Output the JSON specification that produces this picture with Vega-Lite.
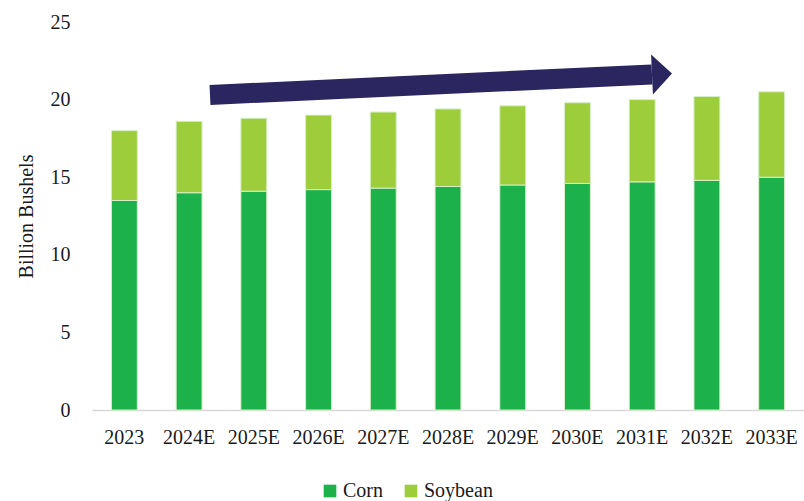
{
  "$schema": "https://vega.github.io/schema/vega-lite/v6.json",
  "width": 712,
  "height": 388,
  "autosize": {"type": "none"},
  "padding": {"left": 92, "top": 22, "right": 0, "bottom": 91},
  "background": "white",
  "config": {
    "view": {"stroke": null},
    "font": "Liberation Serif"
  },
  "datasets": {
    "bars": [
      {"year": "2023", "crop": "Corn", "value": 13.5},
      {"year": "2023", "crop": "Soybean", "value": 4.5},
      {"year": "2024E", "crop": "Corn", "value": 14.0},
      {"year": "2024E", "crop": "Soybean", "value": 4.6},
      {"year": "2025E", "crop": "Corn", "value": 14.1},
      {"year": "2025E", "crop": "Soybean", "value": 4.7},
      {"year": "2026E", "crop": "Corn", "value": 14.2},
      {"year": "2026E", "crop": "Soybean", "value": 4.8},
      {"year": "2027E", "crop": "Corn", "value": 14.3},
      {"year": "2027E", "crop": "Soybean", "value": 4.9},
      {"year": "2028E", "crop": "Corn", "value": 14.4},
      {"year": "2028E", "crop": "Soybean", "value": 5.0},
      {"year": "2029E", "crop": "Corn", "value": 14.5},
      {"year": "2029E", "crop": "Soybean", "value": 5.1},
      {"year": "2030E", "crop": "Corn", "value": 14.6},
      {"year": "2030E", "crop": "Soybean", "value": 5.2},
      {"year": "2031E", "crop": "Corn", "value": 14.7},
      {"year": "2031E", "crop": "Soybean", "value": 5.3},
      {"year": "2032E", "crop": "Corn", "value": 14.8},
      {"year": "2032E", "crop": "Soybean", "value": 5.4},
      {"year": "2033E", "crop": "Corn", "value": 15.0},
      {"year": "2033E", "crop": "Soybean", "value": 5.5}
    ],
    "arrowShaft": [
      {"pos": 1.823, "level": 20.3},
      {"pos": 8.651, "level": 21.62}
    ],
    "arrowHead": [
      {"pos": 8.806, "level": 21.65}
    ]
  },
  "layer": [
    {
      "data": {"name": "bars"},
      "mark": {"type": "bar", "stroke": "#d6efc6", "strokeWidth": 1},
      "encoding": {
        "x": {
          "field": "year",
          "type": "nominal",
          "sort": null,
          "scale": {"paddingInner": 0.6, "paddingOuter": 0.3},
          "axis": {
            "title": null,
            "labelAngle": 0,
            "labelFontSize": 20,
            "labelColor": "#1a1a1a",
            "labelPadding": 17,
            "labelOverlap": false,
            "ticks": false,
            "domainColor": "#d9d9d9",
            "domainWidth": 1.5,
            "grid": false
          }
        },
        "y": {
          "field": "value",
          "type": "quantitative",
          "stack": "zero",
          "scale": {"domain": [0, 25], "nice": false},
          "axis": {
            "title": "Billion Bushels",
            "titleFontSize": 20,
            "titleFontWeight": "normal",
            "titleColor": "#1a1a1a",
            "titlePadding": 14,
            "values": [0, 5, 10, 15, 20, 25],
            "labelFontSize": 20,
            "labelColor": "#1a1a1a",
            "labelPadding": 22,
            "ticks": false,
            "domain": false,
            "grid": false
          }
        },
        "order": {"field": "crop", "sort": "ascending"},
        "color": {
          "field": "crop",
          "type": "nominal",
          "scale": {"domain": ["Corn", "Soybean"], "range": ["#1cb14a", "#9dcd3a"]},
          "legend": {
            "title": null,
            "orient": "none",
            "direction": "horizontal",
            "legendX": 228,
            "legendY": 459,
            "symbolType": "square",
            "symbolSize": 160,
            "symbolStrokeWidth": 0,
            "labelFontSize": 20,
            "labelColor": "#1a1a1a",
            "labelOffset": 3,
            "columnPadding": 18
          }
        }
      }
    },
    {
      "data": {"name": "arrowShaft"},
      "mark": {"type": "line", "color": "#2b2660", "strokeWidth": 20, "strokeCap": "butt"},
      "encoding": {
        "x": {"field": "pos", "type": "quantitative", "scale": {"domain": [0, 11], "nice": false, "zero": false}, "axis": null},
        "y": {"field": "level", "type": "quantitative"}
      }
    },
    {
      "data": {"name": "arrowHead"},
      "mark": {"type": "point", "filled": true, "opacity": 1, "color": "#2b2660", "shape": "M -0.5 -1 L 0.5 0 L -0.5 1 Z", "size": 1600, "angle": -2.66},
      "encoding": {
        "x": {"field": "pos", "type": "quantitative", "scale": {"domain": [0, 11], "nice": false, "zero": false}, "axis": null},
        "y": {"field": "level", "type": "quantitative"}
      }
    }
  ],
  "resolve": {"scale": {"x": "independent"}}
}
